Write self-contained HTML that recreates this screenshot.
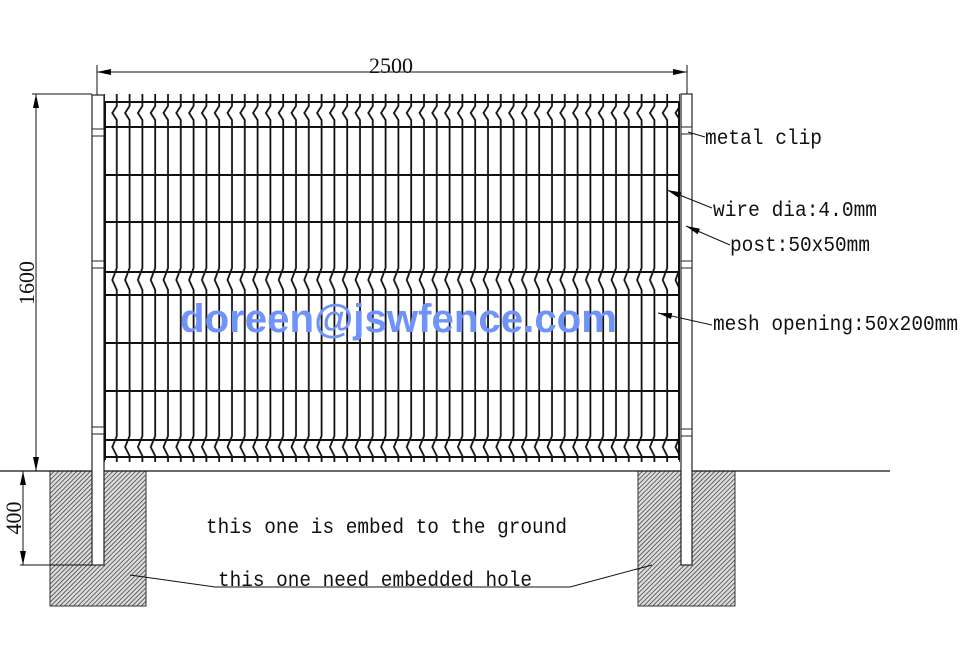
<!DOCTYPE html>
<html><head><meta charset="utf-8"><style>
html,body{margin:0;padding:0;background:#fff;width:962px;height:650px;overflow:hidden}
svg{display:block}
.t{font-family:"Liberation Mono",monospace;font-size:21px;fill:#111}
.d{font-family:"Liberation Serif",serif;font-size:22px;fill:#111}
</style></head><body>
<svg width="962" height="650" viewBox="0 0 962 650" xmlns="http://www.w3.org/2000/svg">
<defs>
<pattern id="h" patternUnits="userSpaceOnUse" width="3.2" height="3.2" patternTransform="rotate(45)">
<rect width="3.2" height="3.2" fill="#dcdcdc"/>
<line x1="0" y1="0" x2="0" y2="3.2" stroke="#333" stroke-width="1.4"/>
</pattern>
<pattern id="w" patternUnits="userSpaceOnUse" x="98" y="0" width="12.8" height="650">
<path d="M6 94 V106 L1.5 113 L6 120 V268 L1.5 280 L6 290 V436 L1.5 447 L6 456 V462" fill="none" stroke="#111" stroke-width="1.8"/>
</pattern>
<marker id="a" markerWidth="14" markerHeight="8" refX="14" refY="4" orient="auto" markerUnits="userSpaceOnUse">
<path d="M0 1 L14 4 L0 7 Z" fill="#000"/>
</marker>
</defs>

<rect x="50" y="471" width="96" height="135" fill="url(#h)" stroke="#333"/>
<rect x="638" y="471" width="97" height="135" fill="url(#h)" stroke="#333"/>

<line x1="0" y1="471" x2="890" y2="471" stroke="#111" stroke-width="1.2"/>

<rect x="92" y="95" width="12" height="470" fill="#fff" stroke="#222" stroke-width="1.2"/>
<rect x="681" y="94" width="11" height="471" fill="#fff" stroke="#222" stroke-width="1.2"/>
<g fill="#fff" stroke="#222" stroke-width="1">
<rect x="92" y="129" width="12" height="7"/><rect x="92" y="261" width="12" height="7"/><rect x="92" y="427" width="12" height="7"/>
<rect x="681" y="127" width="11" height="7"/><rect x="681" y="261" width="11" height="7"/><rect x="681" y="429" width="11" height="7"/>
</g>

<rect x="104" y="90" width="576" height="375" fill="url(#w)"/>
<g stroke="#111" stroke-width="2">
<line x1="104" y1="102" x2="680" y2="102"/>
<line x1="104" y1="127" x2="680" y2="127"/>
<line x1="104" y1="175" x2="680" y2="175"/>
<line x1="104" y1="222" x2="680" y2="222"/>
<line x1="104" y1="272" x2="680" y2="272"/>
<line x1="104" y1="295" x2="680" y2="295"/>
<line x1="104" y1="343" x2="680" y2="343"/>
<line x1="104" y1="391" x2="680" y2="391"/>
<line x1="104" y1="440" x2="680" y2="440"/>
<line x1="104" y1="457" x2="680" y2="457"/>
<line x1="105" y1="102" x2="105" y2="460"/>
<line x1="679" y1="102" x2="679" y2="460"/>
</g>

<text x="180" y="332" textLength="437" lengthAdjust="spacingAndGlyphs" font-family="Liberation Sans,sans-serif" font-weight="bold" font-size="40" fill="#6f93f8">doreen@jswfence.com</text>

<g stroke="#111" stroke-width="1" fill="none">
<line x1="97" y1="65" x2="97" y2="95"/>
<line x1="687" y1="65" x2="687" y2="94"/>
<line x1="97" y1="72" x2="687" y2="72" marker-end="url(#a)"/>
<line x1="687" y1="72" x2="97" y2="72" marker-end="url(#a)"/>
<line x1="32" y1="94" x2="92" y2="94"/>
<line x1="36" y1="471" x2="36" y2="94" marker-end="url(#a)"/>
<line x1="36" y1="94" x2="36" y2="471" marker-end="url(#a)"/>
<line x1="20" y1="565" x2="92" y2="565"/>
<line x1="23" y1="565" x2="23" y2="471" marker-end="url(#a)"/>
<line x1="23" y1="471" x2="23" y2="565" marker-end="url(#a)"/>
</g>
<text class="d" x="391" y="73" text-anchor="middle">2500</text>
<text class="d" transform="translate(34,283) rotate(-90)" text-anchor="middle">1600</text>
<text class="d" transform="translate(21,518) rotate(-90)" text-anchor="middle">400</text>

<g stroke="#111" stroke-width="1" fill="none">
<line x1="688" y1="132" x2="705" y2="137"/>
<line x1="712" y1="208" x2="667" y2="190" marker-end="url(#a)"/>
<line x1="730" y1="245" x2="686" y2="226" marker-end="url(#a)"/>
<line x1="712" y1="325" x2="658" y2="313" marker-end="url(#a)"/>
<polyline points="130,575 215,587 570,587 652,565"/>
</g>

<text class="t" x="705" y="144" textLength="117" lengthAdjust="spacingAndGlyphs">metal clip</text>
<text class="t" x="713" y="216" textLength="164" lengthAdjust="spacingAndGlyphs">wire dia:4.0mm</text>
<text class="t" x="730" y="251" textLength="140" lengthAdjust="spacingAndGlyphs">post:50x50mm</text>
<text class="t" x="713" y="330" textLength="245" lengthAdjust="spacingAndGlyphs">mesh opening:50x200mm</text>
<text class="t" x="206" y="533" textLength="361" lengthAdjust="spacingAndGlyphs">this one is embed to the ground</text>
<text class="t" x="218" y="586" textLength="314" lengthAdjust="spacingAndGlyphs">this one need embedded hole</text>
</svg>
</body></html>
